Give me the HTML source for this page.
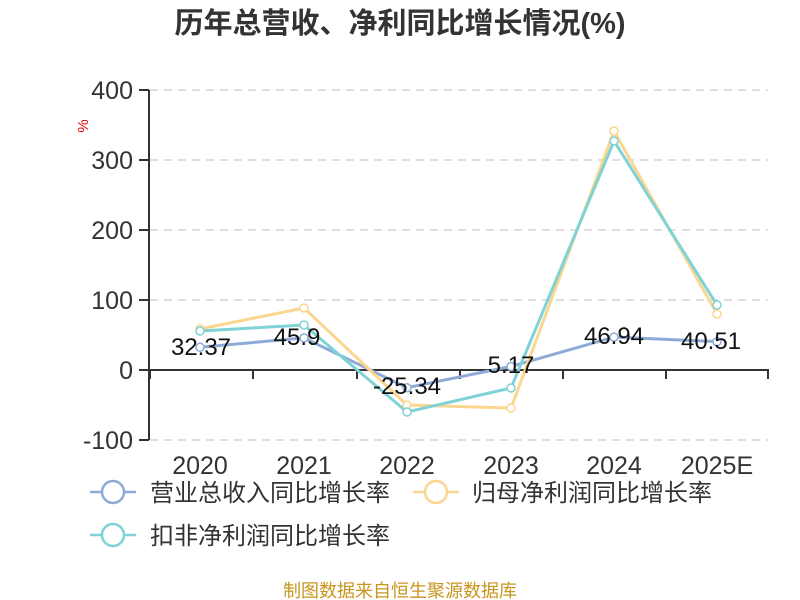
<!DOCTYPE html>
<html><head><meta charset="utf-8"><style>body{margin:0;background:#fff}svg{display:block}</style></head><body>
<svg width="800" height="600" xmlns="http://www.w3.org/2000/svg" font-family="'Liberation Sans','Noto Sans CJK SC',sans-serif">
<text x="400" y="33" text-anchor="middle" font-size="29" font-weight="bold" fill="#333">历年总营收、净利同比增长情况(%)</text>
<g stroke="#ccc" stroke-dasharray="8,6" stroke-width="1.2">
<line x1="150" y1="90" x2="768" y2="90"/><line x1="150" y1="160" x2="768" y2="160"/><line x1="150" y1="230" x2="768" y2="230"/><line x1="150" y1="300" x2="768" y2="300"/><line x1="150" y1="440" x2="768" y2="440"/>
</g>
<g stroke="#333" stroke-width="2">
<line x1="149" y1="90" x2="149" y2="440"/>
<line x1="139" y1="90" x2="149" y2="90"/><line x1="139" y1="160" x2="149" y2="160"/><line x1="139" y1="230" x2="149" y2="230"/><line x1="139" y1="300" x2="149" y2="300"/><line x1="139" y1="370" x2="149" y2="370"/><line x1="139" y1="440" x2="149" y2="440"/>
<line x1="149" y1="370" x2="769" y2="370"/>
<line x1="150" y1="370" x2="150" y2="379"/><line x1="253" y1="370" x2="253" y2="379"/><line x1="357" y1="370" x2="357" y2="379"/><line x1="460" y1="370" x2="460" y2="379"/><line x1="563" y1="370" x2="563" y2="379"/><line x1="666" y1="370" x2="666" y2="379"/><line x1="768" y1="370" x2="768" y2="379"/>
</g>
<g font-size="25" fill="#333" text-anchor="end">
<text x="133" y="99">400</text><text x="133" y="169">300</text><text x="133" y="239">200</text><text x="133" y="309">100</text><text x="133" y="379">0</text><text x="133" y="449">-100</text>
</g>
<text x="93" y="131" font-size="15" fill="#e00" text-anchor="middle" transform="rotate(-90 88 131)">%</text>
<g font-size="25" fill="#333" text-anchor="middle">
<text x="200" y="474">2020</text><text x="304" y="474">2021</text><text x="407" y="474">2022</text><text x="511" y="474">2023</text><text x="614" y="474">2024</text><text x="717" y="474">2025E</text>
</g>
<g fill="none" stroke-width="3">
<polyline stroke="#8eabd8" points="200,347.3 304,337.9 407,387.7 511,366.4 614,337.1 717,341.6"/>
<polyline stroke="#fcd68e" points="200,329 304,308 407,405 511,408 614,131 717,314"/>
<polyline stroke="#7fd3d6" points="200,331 304,325 407,412 511,388 614,141 717,305"/>
</g>
<g fill="#fff" stroke-width="1.5">
<g stroke="#8eabd8"><circle cx="200" cy="347.3" r="4"/><circle cx="304" cy="337.9" r="4"/><circle cx="407" cy="387.7" r="4"/><circle cx="511" cy="366.4" r="4"/><circle cx="614" cy="337.1" r="4"/><circle cx="717" cy="341.6" r="4"/></g>
<g stroke="#fcd68e"><circle cx="200" cy="329" r="4"/><circle cx="304" cy="308" r="4"/><circle cx="407" cy="405" r="4"/><circle cx="511" cy="408" r="4"/><circle cx="614" cy="131" r="4"/><circle cx="717" cy="314" r="4"/></g>
<g stroke="#7fd3d6"><circle cx="200" cy="331" r="4"/><circle cx="304" cy="325" r="4"/><circle cx="407" cy="412" r="4"/><circle cx="511" cy="388" r="4"/><circle cx="614" cy="141" r="4"/><circle cx="717" cy="305" r="4"/></g>
</g>
<g font-size="24" fill="#111" text-anchor="middle">
<text x="201" y="355">32.37</text><text x="297" y="345">45.9</text><text x="407" y="394">-25.34</text><text x="511" y="373">5.17</text><text x="614" y="344">46.94</text><text x="711" y="349">40.51</text>
</g>
<g stroke-width="2.5" fill="#fff">
<line x1="90" y1="492" x2="136" y2="492" stroke="#8eabd8"/><circle cx="113" cy="492" r="11" stroke="#8eabd8"/>
<line x1="413" y1="492" x2="459" y2="492" stroke="#fcd68e"/><circle cx="436" cy="492" r="11" stroke="#fcd68e"/>
<line x1="90" y1="535" x2="136" y2="535" stroke="#7fd3d6"/><circle cx="113" cy="535" r="11" stroke="#7fd3d6"/>
</g>
<g font-size="24" fill="#333">
<text x="150" y="501">营业总收入同比增长率</text><text x="472" y="501">归母净利润同比增长率</text><text x="150" y="544">扣非净利润同比增长率</text>
</g>
<text x="400" y="597" text-anchor="middle" font-size="18" fill="#c8961e">制图数据来自恒生聚源数据库</text>
</svg>
</body></html>
